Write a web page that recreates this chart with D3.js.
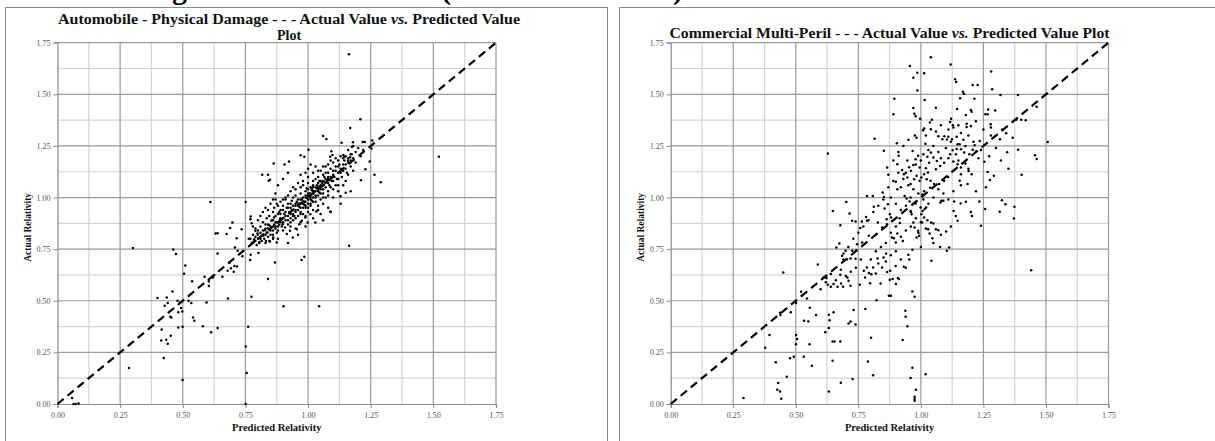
<!DOCTYPE html>
<html><head><meta charset="utf-8">
<script src="https://cdn.jsdelivr.net/npm/d3@7"></script>
<style>
html,body{margin:0;padding:0;background:#fff;}
svg{display:block;}
text{font-family:"Liberation Serif","Times New Roman",serif;}
</style></head>
<body>
<svg id="chart" width="1215" height="441"></svg>
<script>
// ---------- data ----------
const tickValues = [0, 0.25, 0.5, 0.75, 1.0, 1.25, 1.5, 1.75];
const minorValues = [0.125, 0.375, 0.625, 0.875, 1.125, 1.375, 1.625];
const axisDomain = [0, 1.75];
const leftTitle = ["Automobile - Physical Damage - - - Actual Value ", "vs.", " Predicted Value", "Plot"];
const rightTitle = ["Commercial Multi-Peril - - - Actual Value ", "vs.", " Predicted Value Plot"];
const xLabel = "Predicted Relativity";
const yLabel = "Actual Relativity";

// Automobile - Physical Damage: [predicted, actual]
const autoPoints = [
[1.163,1.694],[1.209,1.379],[1.168,1.337],[1.06,1.298],[1.073,1.284],[1.522,1.197],[1.134,1.266],
[1.179,1.268],[1.175,1.245],[1.218,1.269],[1.226,1.269],[1.256,1.276],[1.256,1.255],[1.253,1.237],
[1.246,1.174],[1.229,1.137],[1.211,1.084],[1.265,1.11],[1.29,1.074],[1.002,1.232],[0.97,1.205],
[0.985,1.197],[1.093,1.224],[1.097,1.206],[1.088,1.197],[1.141,1.206],[1.145,1.197],[1.174,1.21],
[1.168,1.195],[1.16,1.18],[0.863,1.165],[0.906,1.16],[0.924,1.174],[0.817,1.11],[0.843,1.081],
[0.848,1.086],[0.61,0.979],[0.751,0.979],[0.301,0.755],[0.462,0.748],[0.473,0.726],[1.164,0.766],
[0.51,0.671],[0.505,0.631],[0.537,0.595],[0.587,0.616],[0.604,0.594],[0.604,0.571],[0.625,0.624],
[0.62,0.613],[0.658,0.616],[0.679,0.645],[0.692,0.658],[0.703,0.64],[0.716,0.666],[0.706,0.669],
[0.687,0.685],[0.639,0.729],[0.708,0.758],[0.719,0.742],[0.715,0.803],[0.631,0.826],[0.639,0.827],
[0.675,0.823],[0.689,0.853],[0.698,0.879],[0.735,0.847],[0.738,0.716],[0.769,0.697],[0.771,0.723],
[0.802,0.731],[0.868,0.685],[0.84,0.606],[0.974,0.698],[0.985,0.713],[0.399,0.513],[0.436,0.516],
[0.459,0.545],[0.428,0.476],[0.44,0.489],[0.45,0.423],[0.454,0.419],[0.479,0.5],[0.489,0.49],
[0.493,0.465],[0.498,0.448],[0.482,0.445],[0.523,0.5],[0.534,0.489],[0.541,0.419],[0.546,0.403],
[0.595,0.492],[0.68,0.511],[0.774,0.519],[0.902,0.474],[1.044,0.474],[0.416,0.361],[0.482,0.371],
[0.499,0.374],[0.58,0.376],[0.613,0.348],[0.639,0.368],[0.761,0.374],[0.414,0.308],[0.434,0.311],
[0.452,0.331],[0.44,0.292],[0.424,0.223],[0.285,0.174],[0.751,0.279],[0.755,0.15],[0.499,0.116],
[0.751,0.0],[0.058,0.029],[0.064,0.0],[0.072,0.0],[0.084,0.003],
[0.771,0.908],[0.77,0.895],[0.79,0.839],[0.798,0.826],[0.785,0.798],[0.763,0.8],[0.781,0.782],
[0.806,0.785],[0.821,0.815],[0.832,0.79],[0.848,0.787],[0.861,0.806],[0.875,0.782],[0.828,0.842],
[0.838,0.831],[0.845,0.866],[0.854,0.887],[0.864,0.903],[0.875,0.879],[0.888,0.89],[0.899,0.871],
[0.908,0.855],[0.915,0.823],[0.928,0.839],[0.939,0.806],[0.955,0.847],[0.965,0.871],[0.975,0.887],
[0.989,0.903],[0.998,0.879],[1.009,0.919],[1.029,0.879],[1.033,0.932],[1.089,0.932],[1.129,1.006],
[1.15,1.023],
[0.77,0.80],[0.775,0.78],[0.78,0.82],[0.785,0.79],[0.79,0.81],[0.795,0.77],[0.80,0.84],[0.80,0.80],
[0.805,0.78],[0.81,0.83],[0.81,0.86],[0.815,0.79],[0.82,0.82],[0.82,0.88],[0.825,0.80],[0.83,0.85],
[0.83,0.78],[0.835,0.83],[0.84,0.87],[0.84,0.81],[0.845,0.79],[0.85,0.86],[0.85,0.84],[0.855,0.89],
[0.86,0.82],[0.86,0.80],[0.865,0.87],[0.87,0.85],[0.87,0.91],[0.875,0.83],[0.88,0.88],[0.88,0.86],
[0.885,0.93],[0.79,0.85],[0.78,0.86],[0.775,0.875],[0.80,0.89],[0.81,0.91],[0.82,0.93],[0.83,0.95],
[0.84,0.94],[0.85,0.97],[0.845,0.91],[0.86,0.93],[0.835,0.90],[0.865,0.95],[0.87,0.99],[0.875,0.97],
[0.88,0.92],[0.89,0.94],[0.90,0.90],[0.91,0.93],[0.92,0.91],[0.93,0.95],[0.94,0.92],[0.95,0.90],
[0.96,0.94],[0.97,0.92],[0.98,0.95],[0.99,0.91],[1.00,0.93],[1.01,0.96],[0.90,0.96],[0.92,0.97],
[0.94,0.89],[0.97,0.88],[0.89,0.98],[0.91,0.99],[0.93,0.97],[0.94,1.00],[0.95,0.96],[0.96,0.99],
[0.97,0.97],[0.98,1.00],[0.99,0.98],[1.00,0.99],[1.01,0.97],[1.02,1.00],[1.03,0.98],[1.04,0.96],
[0.95,1.01],[0.97,1.02],[0.99,1.03],[1.00,0.95],[0.935,0.985],[0.965,0.955],[0.985,0.965],[1.015,0.985],
[0.93,1.03],[0.95,1.04],[0.97,1.05],[0.99,1.01],[1.00,1.04],[1.01,1.02],[1.02,1.05],[1.03,1.03],
[1.04,1.01],[1.05,1.04],[1.06,1.02],[1.07,1.00],[1.08,1.03],[1.05,0.99],[1.06,0.97],[0.98,1.06],
[1.02,1.08],[1.035,1.045],[1.045,1.025],[1.055,1.055],[1.015,1.035],[0.995,1.045],
[1.00,1.07],[1.02,1.06],[1.03,1.09],[1.04,1.07],[1.05,1.08],[1.06,1.06],[1.07,1.09],[1.08,1.07],
[1.09,1.05],[1.10,1.08],[1.11,1.06],[1.04,1.10],[1.06,1.11],[1.08,1.10],[1.12,1.09],[1.065,1.075],
[1.045,1.055],[1.085,1.085],
[1.05,1.13],[1.07,1.12],[1.09,1.14],[1.10,1.11],[1.11,1.13],[1.12,1.15],[1.13,1.12],[1.14,1.16],
[1.15,1.14],[1.16,1.17],[1.08,1.16],[1.10,1.17],[1.12,1.18],[1.14,1.19],[1.13,1.20],[1.16,1.11],
[1.17,1.15],[1.18,1.13],[1.03,1.15],[1.00,1.14],[1.02,1.12],[1.06,1.15],
[0.87,1.02],[0.88,1.06],[0.90,1.09],[0.92,1.12],[0.84,1.11],[0.91,1.00],[0.86,0.99],[0.95,0.85],
[1.05,0.92],[1.08,0.95],[1.10,1.00],[1.12,1.03],[1.14,1.06],[1.15,1.08],[1.17,1.03],[1.13,0.97],
[1.09,0.93],[1.02,0.90],[0.99,0.86],[1.06,0.89],[0.93,0.86],[0.96,0.82],[0.90,0.84],[0.88,0.80],
[0.92,0.78],
[1.17,1.21],[1.18,1.19],[1.19,1.22],[1.20,1.24],[1.21,1.20],[1.19,1.17],[1.15,1.20],[1.16,1.23],
[1.18,1.25],[1.22,1.23],
[0.86,0.84],[0.87,0.88],[0.88,0.84],[0.885,0.87],[0.89,0.90],[0.895,0.86],[0.90,0.88],[0.905,0.92],
[0.91,0.89],[0.915,0.95],[0.92,0.87],[0.925,0.93],[0.93,0.90],[0.935,0.94],[0.94,0.96],[0.945,0.91],
[0.95,0.93],[0.955,0.98],[0.96,0.91],[0.965,0.97],[0.97,0.95],[0.975,0.99],[0.98,0.92],[0.985,0.98],
[0.99,0.95],[0.995,1.00],[1.00,0.97],[1.005,1.02],[1.01,0.99],[1.015,1.04],[1.02,0.98],[1.025,1.03],
[1.03,1.01],[1.035,1.06],[1.04,1.03],[1.045,1.08],[1.05,1.02],[1.055,1.07],[1.06,1.04],[1.065,1.10],
[1.07,1.05],[1.075,1.08],[1.08,1.12],[1.085,1.06],[1.09,1.10],[1.095,1.08],[1.10,1.13],[1.105,1.10],
[1.11,1.15],[1.115,1.09],[1.12,1.12],[1.125,1.16],[1.13,1.14],[1.135,1.10],[1.14,1.13],[1.145,1.18],
[1.15,1.16],[1.155,1.12],[1.16,1.19],[1.17,1.18],
[0.89,0.92],[0.90,0.94],[0.91,0.91],[0.92,0.95],[0.93,0.92],[0.94,0.94],[0.95,0.97],[0.96,0.96],
[0.97,0.99],[0.98,0.97],[0.99,1.00],[1.00,1.01],[1.01,1.00],[1.02,1.03],[1.03,1.05],[1.04,1.04],
[1.05,1.06],[1.06,1.08],[1.07,1.07],[1.08,1.09],
[0.95,0.94],[0.96,0.97],[0.97,0.93],[0.98,0.98],[0.99,0.96],[1.00,1.02],[1.01,1.05],[1.02,1.02],
[1.03,1.00],[1.04,1.05],[0.92,0.89],[0.93,0.88],[0.94,0.91],[0.89,0.88],[0.87,0.86],[0.86,0.89],
[0.85,0.82],[0.84,0.85],[0.83,0.82],[0.82,0.84],[0.81,0.80],[0.80,0.82],[0.79,0.79],[0.83,0.87],
[1.00,1.10],[0.98,1.08],[0.96,1.07],[0.97,1.11],[1.01,1.16],[0.99,1.12],[1.04,1.13],[1.07,1.15],
[1.09,1.18],[1.11,1.19],[0.94,1.05],[0.92,1.01],[0.90,0.99],[0.88,0.96],[1.06,1.00],[1.08,1.01],
[1.10,1.04],[1.12,1.06],[1.04,0.94],[1.02,0.94]
];

// Commercial Multi-Peril: [predicted, actual]
const cmpPoints = [
[1.04,1.68],[0.956,1.637],[1.119,1.645],[0.97,1.58],[0.986,1.605],[1.013,1.602],[1.281,1.61],
[1.137,1.573],[1.141,1.56],[1.207,1.545],[1.227,1.545],[0.986,1.519],[1.285,1.524],[1.168,1.513],
[1.172,1.503],[1.157,1.481],[1.214,1.479],[1.318,1.497],[1.388,1.497],[0.894,1.479],[1.015,1.473],
[0.97,1.434],[0.974,1.406],[0.979,1.394],[0.997,1.382],[1.06,1.435],[1.145,1.429],[1.2,1.424],
[1.203,1.416],[1.269,1.426],[1.258,1.403],[1.267,1.403],[1.297,1.421],[0.89,1.403],[1.463,1.44],
[1.381,1.377],[1.401,1.377],[1.419,1.374],[1.121,1.382],[1.117,1.366],[1.128,1.35],[1.13,1.339],
[1.044,1.377],[1.036,1.363],[1.013,1.334],[1.009,1.326],[1.04,1.331],[1.183,1.358],[1.2,1.347],
[1.183,1.342],[1.279,1.355],[1.28,1.339],[1.325,1.329],[1.341,1.311],[1.316,1.282],[1.367,1.29],
[0.976,1.3],[0.983,1.29],[1.018,1.261],[1.07,1.297],[1.086,1.282],[1.094,1.297],[1.104,1.281],
[1.11,1.294],[1.16,1.313],[1.143,1.295],[1.124,1.282],[0.815,1.285],[0.904,1.263],[1.507,1.269],
[0.852,1.227],[0.628,1.213],[1.345,1.219],[1.389,1.232],[1.456,1.205],[1.463,1.187],[1.273,1.2],
[1.254,1.173],[1.267,1.124],[1.292,1.105],[1.276,1.085],[1.403,1.111],[1.441,0.648],
[1.147,1.258],[1.155,1.258],[1.178,1.25],[1.143,1.235],[1.16,1.234],[1.215,1.253],[1.235,1.274],
[1.207,1.232],[1.22,1.223],[1.194,1.21],[1.173,1.218],[1.127,1.229],[1.117,1.21],[1.11,1.19],
[1.13,1.174],[1.147,1.161],[1.16,1.145],[1.178,1.165],[1.191,1.129],[1.203,1.113],[1.187,1.065],
[1.16,1.113],[1.155,1.081],[1.109,1.1],[1.093,1.081],[1.073,1.065],[1.06,1.137],[1.077,1.153],
[1.093,1.169],[1.064,1.177],[1.05,1.194],[1.04,1.218],[1.026,1.197],[1.033,1.169],[1.02,1.142],
[1.028,1.121],[1.013,1.113],[1.002,1.097],[1.023,1.089],[1.039,1.081],[1.053,1.065],[1.037,1.048],
[1.013,1.031],[1.006,1.015],[0.995,1.081],[0.983,1.105],[0.973,1.089],[0.959,1.065],[0.946,1.097],
[0.932,1.113],[0.925,1.134],[0.906,1.161],[0.911,1.202],[0.946,1.179],[0.967,1.226],[0.989,1.203],
[0.979,1.185],[0.97,1.158],[0.995,1.145],[0.953,1.147],[0.9,1.076],[0.906,1.04],[0.935,1.008],
[0.943,0.995],[0.959,1.0],[0.979,0.971],[0.865,1.145],
[0.785,1.008],[0.808,1.008],[0.847,1.024],[0.852,1.003],[0.868,0.968],[0.781,0.906],[0.785,0.887],
[0.812,0.955],[0.828,0.879],[0.845,0.855],[0.855,0.947],[0.863,0.895],[0.865,0.871],[0.876,0.919],
[0.881,0.903],[0.884,0.806],[0.892,0.803],[0.9,0.782],[0.906,0.826],[0.915,0.9],[0.916,0.877],
[0.928,0.79],[0.955,0.981],[0.959,0.935],[0.963,0.919],[0.97,0.879],[0.975,0.855],[0.983,0.806],
[0.989,0.839],[0.993,0.815],[0.999,0.952],[1.002,0.919],[1.005,0.879],[1.007,0.935],[1.013,0.903],
[1.015,0.944],[1.021,0.952],[1.026,0.89],[1.029,0.847],[1.035,0.826],[1.041,0.879],[1.046,0.803],
[1.05,0.874],[1.06,0.847],[1.07,0.842],[1.078,0.976],[1.082,0.984],[1.09,0.984],[1.101,0.835],
[1.104,0.742],[1.113,0.758],[1.131,0.935],[1.133,0.981],[1.147,0.887],[1.159,0.971],[1.204,0.911],
[1.234,0.981],[1.24,0.863],[1.257,0.944],[1.315,0.931],[1.324,0.987],[1.338,0.968],[1.374,0.955],
[1.372,0.898],[1.077,0.761],[1.042,0.694],
[0.648,0.935],[0.702,0.979],[0.715,0.923],[0.678,0.866],[0.725,0.887],[0.739,0.884],[0.758,0.852],
[0.764,0.884],[0.662,0.758],[0.674,0.777],[0.685,0.718],[0.691,0.729],[0.699,0.742],[0.705,0.7],
[0.719,0.705],[0.739,0.703],[0.742,0.745],[0.745,0.774],[0.726,0.742],[0.823,0.823],[0.792,0.815],
[0.765,0.782],
[0.756,0.577],[0.772,0.645],[0.777,0.613],[0.784,0.661],[0.792,0.634],[0.797,0.585],[0.802,0.629],
[0.809,0.661],[0.82,0.632],[0.827,0.705],[0.839,0.584],[0.845,0.661],[0.851,0.71],[0.861,0.729],
[0.865,0.639],[0.876,0.602],[0.877,0.645],[0.887,0.605],[0.9,0.581],[0.908,0.61],[0.899,0.668],
[0.912,0.605],[0.932,0.665],[0.95,0.723],[0.954,0.7],[0.966,0.747],
[0.611,0.613],[0.622,0.61],[0.628,0.577],[0.64,0.568],[0.651,0.581],[0.667,0.568],[0.678,0.626],
[0.681,0.584],[0.689,0.568],[0.706,0.613],[0.711,0.597],[0.719,0.573],[0.599,0.556],[0.588,0.676],
[0.45,0.637],
[0.378,0.273],[0.395,0.334],[0.42,0.202],[0.43,0.102],[0.426,0.069],[0.437,0.061],[0.442,0.026],
[0.464,0.132],[0.291,0.029],[0.477,0.221],[0.492,0.229],[0.48,0.445],[0.439,0.431],[0.437,0.442],
[0.501,0.489],[0.501,0.334],[0.505,0.315],[0.501,0.29],[0.521,0.544],[0.524,0.524],[0.545,0.511],
[0.556,0.466],[0.581,0.431],[0.533,0.403],[0.55,0.4],[0.555,0.29],[0.532,0.229],[0.564,0.185],
[0.618,0.347],[0.632,0.368],[0.635,0.406],[0.632,0.432],[0.651,0.444],[0.647,0.303],[0.655,0.303],
[0.678,0.303],[0.647,0.21],[0.632,0.06],[0.68,0.103],[0.727,0.121],[0.711,0.39],[0.719,0.4],
[0.739,0.385],[0.731,0.455],[0.778,0.46],[0.801,0.321],[0.788,0.206],[0.809,0.139],[0.823,0.503],
[0.927,0.31],[0.938,0.452],[0.939,0.423],[0.946,0.377],[0.966,0.545],[0.975,0.519],[0.966,0.176],
[0.959,0.126],[0.98,0.069],[0.975,0.035],[0.975,0.024],[0.975,0.016],[1.019,0.144],[0.872,0.524],
[0.88,0.524],
[0.92,1.05],[0.94,1.12],[0.96,1.13],[0.98,1.16],[1.00,1.18],[1.01,1.21],[1.03,1.23],[1.05,1.25],
[1.07,1.22],[1.08,1.19],[1.10,1.24],[1.12,1.27],[1.14,1.21],[1.15,1.18],[1.17,1.28],[1.19,1.30],
[1.21,1.27],[1.23,1.19],[1.24,1.23],[1.19,1.14],[1.16,1.06],[1.13,1.03],[1.11,0.99],[1.09,1.02],
[1.07,1.04],[1.05,1.00],[1.03,0.97],[1.01,0.99],[0.99,1.02],[0.97,1.04],[0.95,1.06],[0.93,1.09],
[0.91,1.12],[0.89,1.08],[0.87,1.05],[0.88,1.00],[0.90,0.97],[0.92,0.94],[0.94,0.96],[0.96,0.93],
[0.98,0.90],[1.00,0.88],[1.02,0.85],[0.99,0.83],[0.96,0.86],[0.94,0.84],[0.92,0.81],[0.90,0.86],
[0.88,0.83],[0.86,0.78],[0.84,0.76],[0.82,0.74],[0.80,0.70],[0.83,0.68],[0.86,0.69],[0.88,0.72],
[0.90,0.74],[0.92,0.70],[0.94,0.66],[0.76,0.70],[0.74,0.66],[0.72,0.64],[0.70,0.62],[0.68,0.65],
[0.66,0.60],[0.64,0.63],[0.62,0.59],[0.69,0.70],[0.71,0.76],[0.73,0.80],[0.75,0.83],[0.77,0.86],
[0.79,0.89],[0.81,0.93],[0.83,0.96],[0.85,0.99],[0.87,1.11],[0.89,1.18],[0.91,1.22],[0.93,1.25],
[0.95,1.28],[1.02,1.30],[1.06,1.32],[1.08,1.35],[1.11,1.33],[1.15,1.35],[1.18,1.40],[1.22,1.37],
[1.25,1.33],[1.28,1.30],[1.30,1.24],[1.32,1.18],[1.35,1.14],[1.26,1.05],[1.22,1.03],[1.18,0.98],
[1.20,0.93],[1.14,0.91],[1.12,0.86],[1.08,0.82],[1.05,0.78],[1.00,0.76]
];

// ---------- drawing ----------
const svg = d3.select("#chart");

// headline above the panels (only its lowest part falls inside the picture)
svg.append("text").attr("x", 187).attr("y", -1.5).attr("text-anchor", "end")
  .attr("font-size", 30).attr("font-weight", "bold").text("Model Validation Testing");
svg.append("text").attr("x", 441).attr("y", -1.5).attr("text-anchor", "start")
  .attr("font-size", 30).attr("font-weight", "bold")
  .attr("textLength", 242).attr("lengthAdjust", "spacing").text("(Holdout Data)");

// panel frames
svg.append("rect").attr("x", 5.5).attr("y", 7.5).attr("width", 602).attr("height", 460)
  .attr("fill", "none").attr("stroke", "#8a8a8a").attr("stroke-width", 1);
svg.append("rect").attr("x", 619.5).attr("y", 7.5).attr("width", 620).attr("height", 460)
  .attr("fill", "none").attr("stroke", "#8a8a8a").attr("stroke-width", 1);

function panel(cfg) {
  const g = svg.append("g");
  const x = d3.scaleLinear().domain(axisDomain).range([cfg.x0, cfg.x1]);
  const y = d3.scaleLinear().domain(axisDomain).range([cfg.y0, cfg.y1]);

  // minor grid
  g.selectAll(".mvx").data(minorValues).join("line")
    .attr("x1", d => x(d)).attr("x2", d => x(d)).attr("y1", y(0)).attr("y2", y(1.75))
    .attr("stroke", "#d4d4d4").attr("stroke-width", 1.2);
  g.selectAll(".mhy").data(minorValues).join("line")
    .attr("y1", d => y(d)).attr("y2", d => y(d)).attr("x1", x(0)).attr("x2", x(1.75))
    .attr("stroke", "#d4d4d4").attr("stroke-width", 1.2);
  // major grid
  const majors = tickValues.filter(d => d > 0);
  g.selectAll(".Mvx").data(majors).join("line")
    .attr("x1", d => x(d)).attr("x2", d => x(d)).attr("y1", y(0)).attr("y2", y(1.75))
    .attr("stroke", "#9a9a9a").attr("stroke-width", 1.2);
  g.selectAll(".Mhy").data(majors).join("line")
    .attr("y1", d => y(d)).attr("y2", d => y(d)).attr("x1", x(0)).attr("x2", x(1.75))
    .attr("stroke", "#9a9a9a").attr("stroke-width", 1.2);

  // axes
  const fmt = d3.format(".2f");
  const ax = g.append("g").attr("transform", `translate(0,${y(0)})`)
    .call(d3.axisBottom(x).tickValues(tickValues).tickFormat(fmt).tickSize(4).tickPadding(4));
  const ay = g.append("g").attr("transform", `translate(${x(0)},0)`)
    .call(d3.axisLeft(y).tickValues(tickValues).tickFormat(fmt).tickSize(4).tickPadding(3));
  [ax, ay].forEach(a => {
    a.select(".domain").attr("stroke", "#8a8a8a").attr("stroke-width", 1.2);
    a.selectAll(".tick line").attr("stroke", "#8a8a8a");
    a.selectAll(".tick text").attr("font-family", "Liberation Serif, serif")
      .attr("font-size", 8).attr("fill", "#555");
  });

  // diagonal reference line
  g.append("line").attr("x1", x(0)).attr("y1", y(0)).attr("x2", x(1.75)).attr("y2", y(1.75))
    .attr("stroke", "#000").attr("stroke-width", 2.2).attr("stroke-dasharray", "8,5");

  // points
  g.selectAll("circle").data(cfg.points).join("circle")
    .attr("cx", d => x(d[0])).attr("cy", d => y(d[1])).attr("r", 1.25).attr("fill", "#000");

  // axis titles
  g.append("text").attr("x", (cfg.x0 + cfg.x1) / 2).attr("y", 431).attr("text-anchor", "middle")
    .attr("font-size", 10.5).attr("font-weight", "bold").attr("fill", "#111").text(xLabel);
  g.append("text").attr("transform", `translate(${cfg.ylx},${(cfg.y0 + cfg.y1) / 2 + 4}) rotate(-90)`)
    .attr("text-anchor", "middle").attr("font-size", 9.5).attr("font-weight", "bold")
    .attr("fill", "#111").text(yLabel);

  // title
  const t = cfg.title;
  cfg.titleLines.forEach(ln => {
    const tx = g.append("text").attr("x", ln.x).attr("y", ln.y).attr("text-anchor", "middle")
      .attr("font-size", 14).attr("font-weight", "bold").attr("fill", "#111");
    if (ln.len) tx.attr("textLength", ln.len).attr("lengthAdjust", "spacingAndGlyphs");
    ln.parts.forEach(p => {
      const s = tx.append("tspan").text(t[p]);
      if (t[p] === "vs.") s.attr("font-style", "italic");
    });
  });
  return g;
}

panel({x0: 57.5, x1: 496, y0: 404, y1: 42.7, points: autoPoints, ylx: 31,
  title: leftTitle,
  titleLines: [{x: 289, y: 24, parts: [0, 1, 2], len: 462}, {x: 289, y: 40, parts: [3]}]});
panel({x0: 670.7, x1: 1108.5, y0: 404, y1: 42.7, points: cmpPoints, ylx: 644,
  title: rightTitle,
  titleLines: [{x: 889.5, y: 38, parts: [0, 1, 2], len: 440}]});
</script>
</body></html>
